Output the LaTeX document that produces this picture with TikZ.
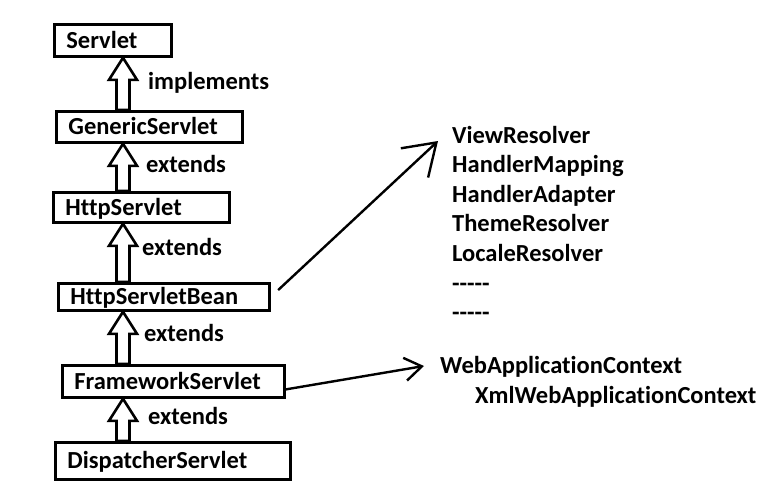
\documentclass[tikz,border=0pt]{standalone}
\usepackage{fontspec}
\setmainfont{Carlito}[Ligatures={NoCommon}]
\usetikzlibrary{calc,arrows.meta}

\tikzset{
  cls/.style 2 args={draw, line width=2.8pt, anchor=north west, inner xsep=12pt,
    inner ysep=2pt, text width=#1pt-24pt, minimum height=#2pt, align=left,
    text height=16pt, text depth=0pt},
  rel/.style={anchor=base west, inner sep=0pt},
  item/.style={anchor=base west, inner sep=0pt},
  hollow/.style={draw, line width=2.6pt, fill=white, line join=miter},
  link/.style={line width=2.4pt}
}

% 空心箭头：#1 子类，#2 父类
\newcommand{\inheritarrow}[2]{%
  \path (axis |- #1.north) coordinate (b) (axis |- #2.south) coordinate (t);
  \draw[hollow] ($(b)+(-6.5,0)$) -- ($(t)+(-6.5,22)$) -- ($(t)+(-14,22)$) -- (t)
    -- ($(t)+(14,22)$) -- ($(t)+(6.5,22)$) -- ($(b)+(6.5,0)$) -- cycle;}

\begin{document}
\begin{tikzpicture}[x=1pt, y=-1pt, font=\fontsize{24.5}{29.6}\selectfont\bfseries]
    \useasboundingbox[fill=white] (0,0) rectangle (782,501);

    % 类层次
    \node[cls={117}{32}] (servlet) at (53,23) {Servlet};
    \node[cls={186}{31}] (generic) at (55,110) {GenericServlet};
    \node[cls={176}{30}] (http) at (52,191) {HttpServlet};
    \node[cls={211}{27}] (bean) at (57,282) {HttpServletBean};
    \node[cls={222}{32}] (framework) at (61,364) {FrameworkServlet};
    \node[cls={235}{37}] (dispatcher) at (54,441) {DispatcherServlet};

    % 继承箭头
    \coordinate (axis) at (123,0);
    \inheritarrow{generic}{servlet}
    \inheritarrow{http}{generic}
    \inheritarrow{bean}{http}
    \inheritarrow{framework}{bean}
    \inheritarrow{dispatcher}{framework}

    % 关系标注
    \node[rel] (implements) at (148,89) {implements};
    \node[rel] (ext1) at (146,172) {extends};
    \node[rel] (ext2) at (142,255) {extends};
    \node[rel] (ext3) at (144,341) {extends};
    \node[rel] (ext4) at (148,424) {extends};

    % 组件列表
    \foreach \t [count=\i] in {ViewResolver, HandlerMapping, HandlerAdapter,
        ThemeResolver, LocaleResolver, -{}-{}-{}-{}-, -{}-{}-{}-{}-}
      \node[item] (comp\i) at (452,{143+29.6*(\i-1)}) {\t};

    % 上下文
    \node[item] (webctx) at (440,373) {WebApplicationContext};
    \node[item] (xmlctx) at (475,403) {XmlWebApplicationContext};

    % 指向箭头
    \coordinate (viewtip) at (438,141);
    \coordinate (ctxtip) at (424,366);
    \draw[link, -{Straight Barb[length=30pt,width=40pt]}, shorten <=10pt]
      (bean.east) -- (viewtip);
    \draw[link, -{Straight Barb[length=17pt,width=23pt]}]
      ([yshift=-8pt]framework.east) -- (ctxtip);
\end{tikzpicture}
\end{document}
